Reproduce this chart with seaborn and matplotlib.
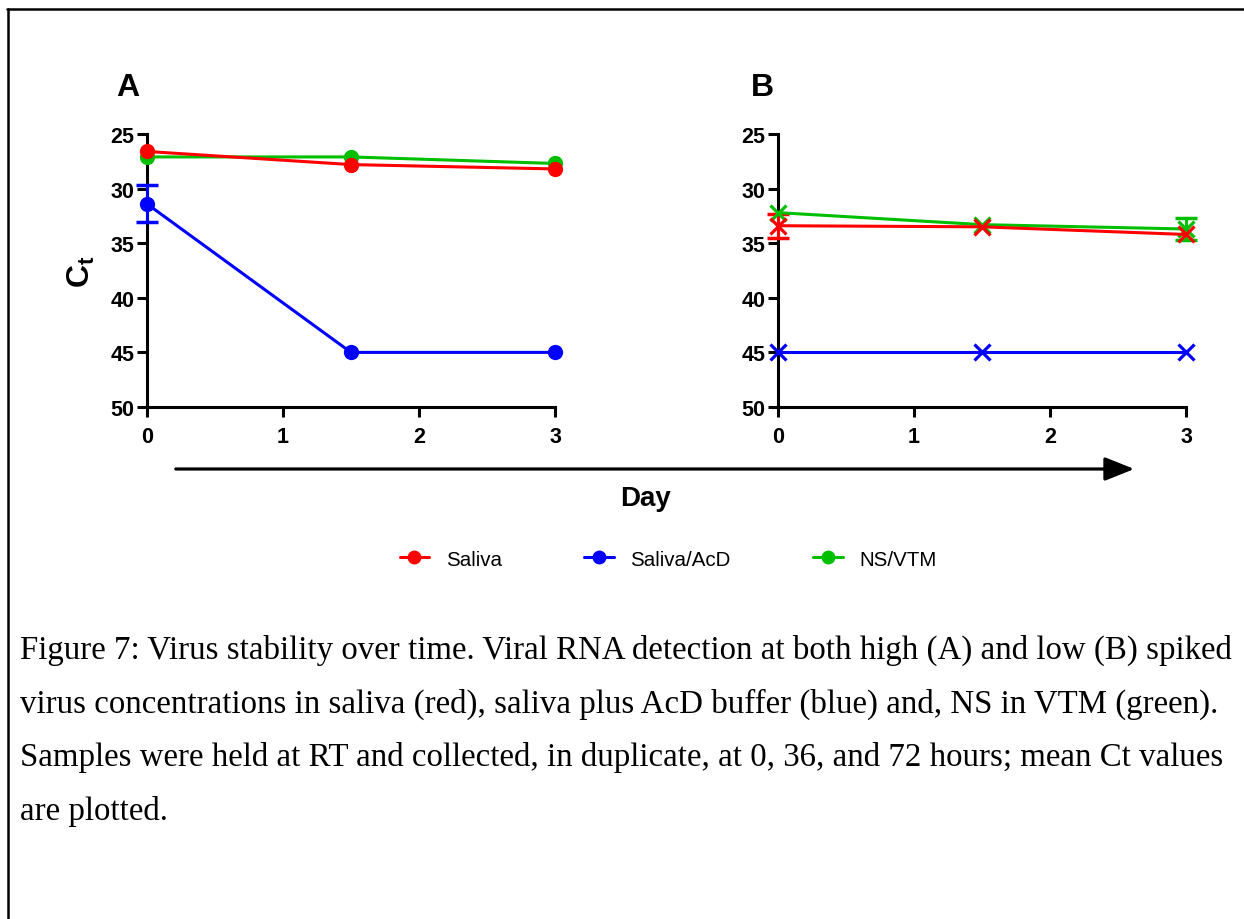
import numpy as np
import pandas as pd
import matplotlib
matplotlib.use("Agg")
import matplotlib.pyplot as plt
from matplotlib.lines import Line2D
import seaborn as sns

# ---------------- data ----------------
days = [0, 1.5, 3]
samples = ["Saliva", "Saliva/AcD", "NS/VTM"]
colors = ["#FF0000", "#0000FF", "#00BF00"]

a_saliva = [26.6, 27.8, 28.2]
a_acd = [31.4, 45.0, 45.0]
a_vtm = [27.1, 27.1, 27.7]

b_saliva = [33.4, 33.5, 34.2]
b_acd = [45.0, 45.0, 45.0]
b_vtm = [32.2, 33.3, 33.7]

# error bars (half-widths) per point; 0 means no visible bar
a_saliva_err = [0, 0, 0]
a_acd_err = [1.7, 0, 0]
a_vtm_err = [0, 0, 0]
b_saliva_err = [1.1, 0, 0]
b_acd_err = [0, 0, 0]
b_vtm_err = [0, 0, 1.05]

yticks = [25, 30, 35, 40, 45, 50]
xticks = [0, 1, 2, 3]

caption_lines = [
    "Figure 7: Virus stability over time. Viral RNA detection at both high (A) and low (B) spiked",
    "virus concentrations in saliva (red), saliva plus AcD buffer (blue) and, NS in VTM (green).",
    "Samples were held at RT and collected, in duplicate, at 0, 36, and 72 hours; mean Ct values",
    "are plotted.",
]

# ---------------- style ----------------
sns.set_theme(style="ticks")
plt.rcParams["font.family"] = ["Liberation Sans", "DejaVu Sans"]
plt.rcParams["mathtext.fontset"] = "custom"
plt.rcParams["mathtext.rm"] = "Liberation Sans"
plt.rcParams["mathtext.bf"] = "Liberation Sans:bold"
plt.rcParams["text.color"] = "black"
plt.rcParams["xtick.color"] = "black"
plt.rcParams["ytick.color"] = "black"
plt.rcParams["axes.labelcolor"] = "black"

fig = plt.figure(figsize=(12.44, 9.20), dpi=100)
fig.patch.set_facecolor("white")

axA = fig.add_axes([147 / 1244, 1 - 408 / 920, 408 / 1244, 273 / 920])
axB = fig.add_axes([778 / 1244, 1 - 408 / 920, 408 / 1244, 273 / 920])


def make_df(s, acd, vtm):
    rows = []
    for name, vals in zip(samples, [s, acd, vtm]):
        for d, v in zip(days, vals):
            rows.append({"day": d, "ct": v, "sample": name})
    return pd.DataFrame(rows)


dfA = make_df(a_saliva, a_acd, a_vtm)
dfB = make_df(b_saliva, b_acd, b_vtm)
pal = dict(zip(samples, colors))

draw_order = ["Saliva/AcD", "NS/VTM", "Saliva"]

for ax, df, errs, mk in [
    (axA, dfA, dict(zip(samples, [a_saliva_err, a_acd_err, a_vtm_err])), "o"),
    (axB, dfB, dict(zip(samples, [b_saliva_err, b_acd_err, b_vtm_err])), "x"),
]:
    for name in draw_order:
        sub = df[df["sample"] == name]
        e = np.array(errs[name])
        mask = e > 0
        if mask.any():
            ax.errorbar(sub["day"].values[mask], sub["ct"].values[mask], yerr=e[mask],
                        fmt="none", ecolor=pal[name], elinewidth=2.2, capsize=8,
                        capthick=2.5, clip_on=False, zorder=3)
        if mk == "o":
            sns.lineplot(data=sub, x="day", y="ct", color=pal[name], marker="o",
                         markersize=11, markeredgewidth=0, linewidth=2.2, ax=ax,
                         clip_on=False, zorder=4, legend=False)
        else:
            sns.lineplot(data=sub, x="day", y="ct", color=pal[name], marker="x",
                         markersize=12, markeredgewidth=2.3, markeredgecolor=pal[name],
                         linewidth=2.2, ax=ax, clip_on=False, zorder=4, legend=False)

    ax.set_xlim(0, 3)
    ax.set_ylim(50, 25)
    ax.set_xticks(xticks)
    ax.set_yticks(yticks)
    ax.set_xlabel("")
    ax.set_ylabel("")
    for sp in ["top", "right"]:
        ax.spines[sp].set_visible(False)
    for sp in ["left", "bottom"]:
        ax.spines[sp].set_linewidth(2.2)
        ax.spines[sp].set_color("black")
    ax.tick_params(axis="both", which="major", length=7, width=2.2, color="black",
                   labelsize=15.5, labelcolor="black")
    ax.tick_params(axis="y", pad=2)
    ax.tick_params(axis="x", pad=7)
    for lab in ax.get_xticklabels() + ax.get_yticklabels():
        lab.set_fontweight("bold")
    ax.set_facecolor("white")

axA.set_ylabel(r"$\mathbf{C_t}$", fontsize=23, labelpad=10)

fig.text(128 / 1244, 1 - 88 / 920, "A", fontsize=23, fontweight="bold",
         ha="center", va="center")
fig.text(762 / 1244, 1 - 88 / 920, "B", fontsize=23, fontweight="bold",
         ha="center", va="center")

# Day arrow
fig.add_artist(matplotlib.patches.FancyArrowPatch(
    (173 / 1244, 1 - 470 / 920), (1137 / 1244, 1 - 470 / 920),
    transform=fig.transFigure, arrowstyle="-|>,head_length=1.5,head_width=0.6",
    mutation_scale=12, linewidth=2.3, color="black"))
fig.text(645 / 1244, 1 - 499 / 920, "Day", fontsize=20, fontweight="bold",
         ha="center", va="center")

# legend
handles = [Line2D([0], [0], color=c, linewidth=2.2, marker="o", markersize=10,
                  markeredgewidth=0) for c in colors]
fig.legend(handles, samples, loc="center", bbox_to_anchor=(668 / 1244, 1 - 560 / 920),
           ncol=3, frameon=False, fontsize=14.8, handlelength=1.45, handletextpad=0.8,
           columnspacing=4.0)

# caption
ys = [650, 704, 758, 812]
for yy, line in zip(ys, caption_lines):
    fig.text(20 / 1244, 1 - yy / 920, line, fontsize=23.7,
             family=["Liberation Serif", "DejaVu Serif"], ha="left", va="center")

# border lines (top and left)
fig.add_artist(Line2D([7 / 1244, 1.0], [1 - 10 / 920, 1 - 10 / 920],
                      transform=fig.transFigure, color="black", linewidth=1.8))
fig.add_artist(Line2D([8 / 1244, 8 / 1244], [0.0, 1 - 10 / 920],
                      transform=fig.transFigure, color="black", linewidth=1.8))

fig.savefig("out.png", dpi=100, facecolor="white")
